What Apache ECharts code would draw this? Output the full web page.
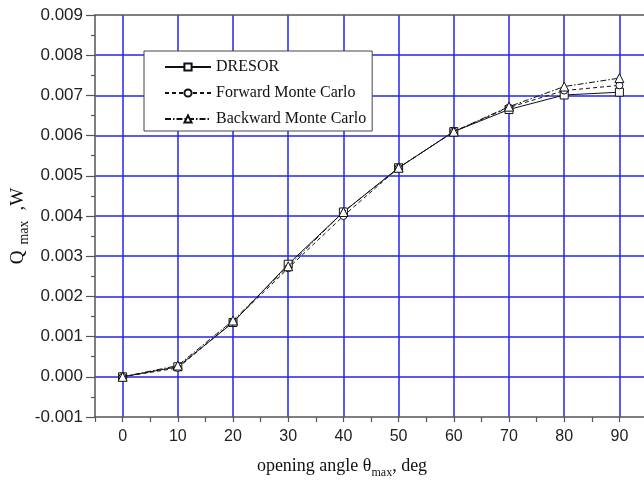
<!DOCTYPE html>
<html>
<head>
<meta charset="utf-8">
<script src="https://cdn.jsdelivr.net/npm/echarts@6/dist/echarts.min.js"></script>
<style>
  html, body { margin: 0; padding: 0; background: #fff; }
  #chart { width: 644px; height: 491px; }
</style>
</head>
<body>
<div id="chart"></div>
<script>
// Opening angle of the emitter, deg
const angles = [0, 10, 20, 30, 40, 50, 60, 70, 80, 90];
// Maximum heat flux Q_max, W, from the three solution methods
const dresor     = [0.0000, 0.00025, 0.00135, 0.00280, 0.00410, 0.00520, 0.00610, 0.00665, 0.00701, 0.00708];
const forwardMC  = [0.0000, 0.00022, 0.00137, 0.00270, 0.00400, 0.00520, 0.00610, 0.00670, 0.00712, 0.00725];
const backwardMC = [0.0000, 0.00028, 0.00140, 0.00275, 0.00410, 0.00520, 0.00610, 0.00672, 0.00722, 0.00743];
const seriesNames = ['DRESOR', 'Forward Monte Carlo', 'Backward Monte Carlo'];

const pairs = ys => angles.map((a, i) => [a, ys[i]]);

const gridBlue = '#2424ee';
const axisGrey = '#555';
const serif = '"Liberation Serif", "DejaVu Serif", serif';
const sans = '"Liberation Sans", Arial, sans-serif';

const chart = echarts.init(document.getElementById('chart'));

chart.setOption({
  animation: false,
  backgroundColor: '#fff',
  grid: { left: 95, right: -3, top: 15, bottom: 74, containLabel: false, outerBoundsMode: 'none' },
  legend: {
    data: seriesNames,
    orient: 'vertical',
    left: 144,
    top: 51,
    backgroundColor: '#fff',
    borderColor: '#444',
    borderWidth: 1,
    borderRadius: 0,
    padding: [8, 6, 4, 20],
    itemGap: 10,
    itemWidth: 46,
    itemHeight: 9,
    textStyle: { fontFamily: serif, fontSize: 16, color: '#111', lineHeight: 16 }
  },
  xAxis: [
    {
      // main angle axis: labels, name and grid lines every 10 deg
      type: 'value',
      position: 'bottom',
      min: -5,
      max: 95,
      splitNumber: 10,
      minInterval: 10,
      maxInterval: 10,
      z: 3,
      axisLine: { show: true, onZero: false, lineStyle: { color: axisGrey, width: 1.5 } },
      axisTick: { show: false },
      axisLabel: {
        margin: 12,
        fontFamily: sans,
        fontSize: 16,
        color: '#222',
        formatter: v => (v >= 0 && v <= 90 && v % 10 === 0) ? String(v) : ''
      },
      splitLine: { show: true, showMinLine: false, showMaxLine: false, lineStyle: { color: gridBlue, width: 1.5 } },
      name: '{a|opening angle θ}{s|max}{a|, deg}',
      nameLocation: 'middle',
      nameGap: 36,
      nameTextStyle: {
        padding: [0, 58, 0, 0],
        rich: {
          a: { fontFamily: serif, fontSize: 18, color: '#111', lineHeight: 26, verticalAlign: 'middle' },
          s: { fontFamily: serif, fontSize: 12, color: '#111', lineHeight: 12, verticalAlign: 'bottom' }
        }
      }
    },
    {
      // tick marks every 5 deg
      type: 'value',
      position: 'bottom',
      min: -5,
      max: 95,
      interval: 5,
      z: 3,
      axisLine: { show: false, onZero: false },
      axisTick: { show: true, length: 5, lineStyle: { color: axisGrey, width: 1.2 } },
      axisLabel: { show: false },
      splitLine: { show: false }
    },
    {
      // top frame
      type: 'value',
      position: 'top',
      min: -5,
      max: 95,
      z: 4,
      axisLine: { show: true, onZero: false, lineStyle: { color: axisGrey, width: 1.5 } },
      axisTick: { show: false },
      axisLabel: { show: false },
      splitLine: { show: false }
    }
  ],
  yAxis: {
    type: 'value',
    min: -0.001,
    max: 0.009,
    interval: 0.001,
    z: 2,
    axisLine: { show: true, onZero: false, lineStyle: { color: axisGrey, width: 1.5 } },
    axisTick: { show: true, inside: false, length: 9, lineStyle: { color: axisGrey, width: 1.2 } },
    minorTick: { show: true, splitNumber: 2, length: 4, lineStyle: { color: axisGrey, width: 1.2 } },
    axisLabel: {
      margin: 12,
      fontFamily: sans,
      fontSize: 17,
      color: '#222',
      formatter: v => (Math.abs(v) < 1e-12 ? 0 : v).toFixed(3)
    },
    splitLine: { show: true, showMinLine: false, showMaxLine: false, lineStyle: { color: gridBlue, width: 1.5 } },
    name: '{a|Q}{s|max}{a|,W}',
    nameLocation: 'middle',
    nameRotate: 90,
    nameGap: 64,
    nameMoveOverlap: false,
    nameTextStyle: {
      padding: [0, 20, 0, 0],
      rich: {
        a: { fontFamily: serif, fontSize: 19, color: '#111', lineHeight: 26, verticalAlign: 'middle' },
        s: { fontFamily: serif, fontSize: 14, color: '#111', lineHeight: 13, verticalAlign: 'bottom', padding: [0, 10, 0, 6] }
      }
    }
  },
  series: [
    {
      name: seriesNames[0],
      type: 'line',
      xAxisIndex: 0,
      data: pairs(dresor),
      symbol: 'rect',
      symbolSize: 8,
      z: 5,
      lineStyle: { color: '#111', width: 1, type: 'solid' },
      itemStyle: { color: '#fff', borderColor: '#111', borderWidth: 1 }
    },
    {
      name: seriesNames[1],
      type: 'line',
      xAxisIndex: 0,
      data: pairs(forwardMC),
      symbol: 'circle',
      symbolSize: 7,
      z: 6,
      lineStyle: { color: '#111', width: 1, type: [4, 3] },
      itemStyle: { color: '#fff', borderColor: '#111', borderWidth: 1 }
    },
    {
      name: seriesNames[2],
      type: 'line',
      xAxisIndex: 0,
      data: pairs(backwardMC),
      symbol: 'triangle',
      symbolSize: 9,
      z: 7,
      lineStyle: { color: '#111', width: 1, type: [6, 2, 1.5, 2] },
      itemStyle: { color: '#fff', borderColor: '#111', borderWidth: 1 }
    }
  ]
});
</script>
</body>
</html>
